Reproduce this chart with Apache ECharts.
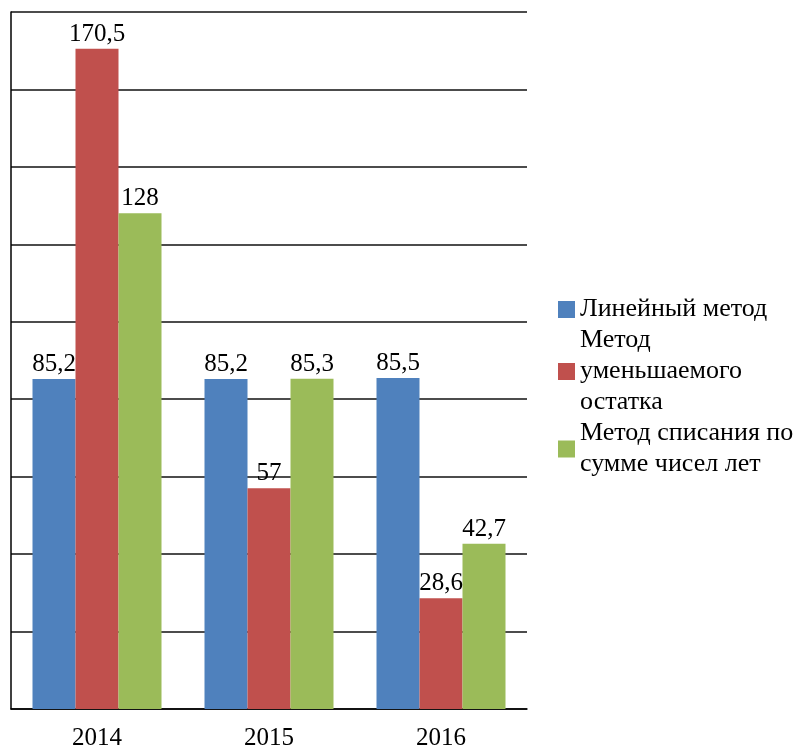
<!DOCTYPE html>
<html>
<head>
<meta charset="utf-8">
<script src="https://cdn.jsdelivr.net/npm/echarts@6/dist/echarts.min.js"></script>
<style>
html,body{margin:0;padding:0;background:#fff;}
#chart{width:800px;height:751px;}
</style>
</head>
<body>
<div id="chart"></div>
<script>
const categories = ['2014', '2015', '2016'];
const seriesNames = ['Линейный метод', 'Метод\nуменьшаемого\nостатка', 'Метод списания по\nсумме чисел лет'];
const linearValues = [85.2, 85.2, 85.5];
const decliningValues = [170.5, 57, 28.6];
const sumYearsValues = [128, 85.3, 42.7];
const colors = ['#4F81BD', '#C0504D', '#9BBB59'];

const FONT = '"Liberation Serif", "Times New Roman", serif';
const chart = echarts.init(document.getElementById('chart'));

function mk(name, data, color) {
  return {
    name: name,
    type: 'bar',
    data: data,
    itemStyle: { color: color },
    barGap: '0%',
    barCategoryGap: '25%',
    label: {
      show: true,
      position: 'top',
      distance: 2,
      color: '#000',
      fontFamily: FONT,
      fontSize: 25,
      formatter: p => String(p.value).replace('.', ',')
    }
  };
}

chart.setOption({
  animation: false,
  backgroundColor: '#fff',
  grid: { left: 11, right: 273, top: 12, bottom: 40, containLabel: false },
  legend: {
    orient: 'vertical',
    left: 553,
    top: 289,
    itemGap: 0,
    itemWidth: 17,
    itemHeight: 17,
    icon: 'rect',
    textStyle: { fontFamily: FONT, fontSize: 26, color: '#000', lineHeight: 31 }
  },
  xAxis: {
    type: 'category',
    data: categories,
    axisLine: { show: true, lineStyle: { color: '#000', width: 1.5 } },
    axisTick: { show: false },
    axisLabel: { color: '#000', fontFamily: FONT, fontSize: 25, margin: 17 }
  },
  yAxis: {
    type: 'value',
    min: 0,
    max: 180,
    interval: 20,
    axisLine: { show: true, lineStyle: { color: '#000', width: 1.5 } },
    axisTick: { show: false },
    axisLabel: { show: false },
    splitLine: { show: true, lineStyle: { color: '#111', width: 1.5 } }
  },
  series: [
    mk(seriesNames[0], linearValues, colors[0]),
    mk(seriesNames[1], decliningValues, colors[1]),
    mk(seriesNames[2], sumYearsValues, colors[2])
  ]
});
</script>
</body>
</html>
